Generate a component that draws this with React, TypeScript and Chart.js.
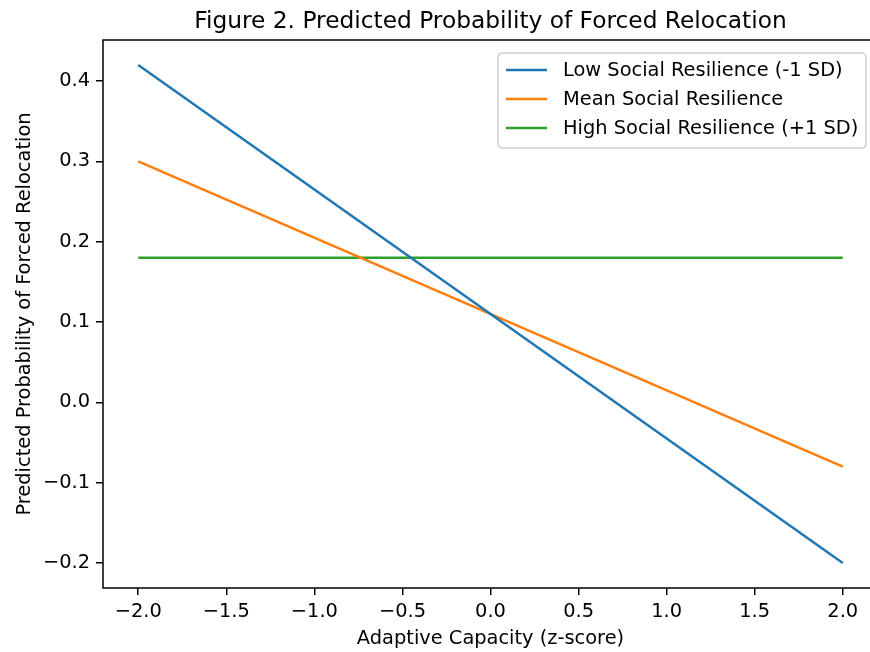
import React, { useEffect, useRef } from "react";
import { Chart, registerables } from "chart.js";

Chart.register(...registerables);

const xValues = [-2, 2];
const lowResilience = [0.42, -0.2];
const meanResilience = [0.3, -0.08];
const highResilience = [0.18, 0.18];
const seriesLabels = [
  "Low Social Resilience (-1 SD)",
  "Mean Social Resilience",
  "High Social Resilience (+1 SD)",
];
const seriesColors = ["#1f77b4", "#ff7f0e", "#2ca02c"];
const xTicks = [-2, -1.5, -1, -0.5, 0, 0.5, 1, 1.5, 2];
const yTicks = [-0.2, -0.1, 0, 0.1, 0.2, 0.3, 0.4];
const titleText = "Figure 2. Predicted Probability of Forced Relocation";
const xTitle = "Adaptive Capacity (z-score)";
const yTitle = "Predicted Probability of Forced Relocation";

const FONT = "'DejaVu Sans', sans-serif";
const TICK_PX = 19.4;
const TITLE_PX = 23.3;
const TEXT = "#000000";

const fmt = (v: number) => {
  if (Math.abs(v) < 1e-9) return "0.0";
  return (v < 0 ? "\u2212" : "") + Math.abs(v).toFixed(1);
};

const decorPlugin = {
  id: "decor",
  afterDatasetsDraw(chart: any) {
    const { ctx, chartArea } = chart;
    const { left, right, top, bottom } = chartArea;
    ctx.save();
    // spines (right spine falls outside the visible frame)
    ctx.strokeStyle = "#000";
    ctx.lineWidth = 1.5;
    ctx.beginPath();
    ctx.moveTo(right + 20, top);
    ctx.lineTo(left, top);
    ctx.lineTo(left, bottom);
    ctx.lineTo(right + 20, bottom);
    ctx.stroke();

    // title
    ctx.fillStyle = TEXT;
    ctx.font = `${TITLE_PX}px ${FONT}`;
    ctx.textAlign = "center";
    ctx.textBaseline = "alphabetic";
    ctx.fillText(titleText, (left + right) / 2, top - 12);

    // axis titles
    ctx.font = `${TICK_PX}px ${FONT}`;
    ctx.textBaseline = "middle";
    ctx.fillText(xTitle, (left + right) / 2, 639);
    ctx.save();
    ctx.translate(25, (top + bottom) / 2);
    ctx.rotate(-Math.PI / 2);
    ctx.fillText(yTitle, 0, 0);
    ctx.restore();

    // legend
    const lx = 498, ly = 53, lw = 368, lh = 95, r = 5;
    ctx.beginPath();
    ctx.moveTo(lx + r, ly);
    ctx.lineTo(lx + lw - r, ly);
    ctx.quadraticCurveTo(lx + lw, ly, lx + lw, ly + r);
    ctx.lineTo(lx + lw, ly + lh - r);
    ctx.quadraticCurveTo(lx + lw, ly + lh, lx + lw - r, ly + lh);
    ctx.lineTo(lx + r, ly + lh);
    ctx.quadraticCurveTo(lx, ly + lh, lx, ly + lh - r);
    ctx.lineTo(lx, ly + r);
    ctx.quadraticCurveTo(lx, ly, lx + r, ly);
    ctx.closePath();
    ctx.fillStyle = "rgba(255,255,255,0.8)";
    ctx.fill();
    ctx.strokeStyle = "#d0d0d0";
    ctx.lineWidth = 1.5;
    ctx.stroke();

    ctx.textAlign = "left";
    ctx.textBaseline = "middle";
    seriesLabels.forEach((lab, i) => {
      const y = 70 + i * 29;
      ctx.strokeStyle = seriesColors[i];
      ctx.lineWidth = 2.5;
      ctx.beginPath();
      ctx.moveTo(506, y);
      ctx.lineTo(547, y);
      ctx.stroke();
      ctx.fillStyle = TEXT;
      ctx.fillText(lab, 563, y + 1);
    });
    ctx.restore();
  },
};

export default function App() {
  const ref = useRef<HTMLCanvasElement>(null);
  useEffect(() => {
    if (!ref.current) return;
    const mk = (vals: number[]) => xValues.map((x, i) => ({ x, y: vals[i] }));
    const series = [lowResilience, meanResilience, highResilience];
    const chart = new Chart(ref.current, {
      type: "line",
      data: {
        datasets: series.map((s, i) => ({
          label: seriesLabels[i],
          data: mk(s),
          borderColor: seriesColors[i],
          backgroundColor: seriesColors[i],
          borderWidth: 2.5,
          pointRadius: 0,
          fill: false,
          tension: 0,
        })),
      },
      options: {
        responsive: false,
        animation: false,
        devicePixelRatio: 1,
        layout: { padding: { left: 0, right: 12, top: 40, bottom: 0 } },
        plugins: {
          legend: { display: false },
          title: { display: false },
          tooltip: { enabled: false },
        },
        scales: {
          x: {
            type: "linear",
            min: -2.2,
            max: 2.2,
            afterBuildTicks: (scale: any) => {
              scale.ticks = xTicks.map((v) => ({ value: v }));
            },
            afterFit: (scale: any) => {
              scale.height = 64;
            },
            grid: {
              display: true,
              drawOnChartArea: false,
              drawTicks: true,
              tickLength: 7,
              color: "#000",
              lineWidth: 1.5,
            },
            border: { display: false },
            ticks: {
              autoSkip: false,
              maxRotation: 0,
              padding: 5,
              color: TEXT,
              font: { family: FONT, size: TICK_PX },
              callback: (v: any) => fmt(Number(v)),
            },
          },
          y: {
            type: "linear",
            min: -0.231,
            max: 0.451,
            afterBuildTicks: (scale: any) => {
              scale.ticks = yTicks.map((v) => ({ value: v }));
            },
            afterFit: (scale: any) => {
              scale.width = 103;
            },
            grid: {
              display: true,
              drawOnChartArea: false,
              drawTicks: true,
              tickLength: 7,
              color: "#000",
              lineWidth: 1.5,
            },
            border: { display: false },
            ticks: {
              autoSkip: false,
              padding: 6,
              color: TEXT,
              font: { family: FONT, size: TICK_PX },
              callback: (v: any) => fmt(Number(v)),
            },
          },
        },
      },
      plugins: [decorPlugin],
    });
    return () => chart.destroy();
  }, []);

  return (
    <div
      style={{
        position: "fixed",
        left: 0,
        top: 0,
        width: 870,
        height: 652,
        overflow: "hidden",
        background: "#fff",
      }}
    >
      <canvas ref={ref} width={890} height={652} style={{ width: 890, height: 652, display: "block" }} />
    </div>
  );
}
